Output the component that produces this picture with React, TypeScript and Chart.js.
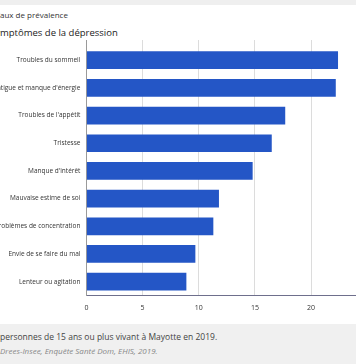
import React, { useEffect, useRef } from "react";
import { Chart, registerables } from "chart.js";

Chart.register(...registerables);

const categories = [
  "Troubles du sommeil",
  "Fatigue et manque d'énergie",
  "Troubles de l'appétit",
  "Tristesse",
  "Manque d'intérêt",
  "Mauvaise estime de soi",
  "Problèmes de concentration",
  "Envie de se faire du mal",
  "Lenteur ou agitation",
];
const prevalence = [22.4, 22.2, 17.7, 16.5, 14.8, 11.8, 11.3, 9.7, 8.9];
const xTicks = [0, 5, 10, 15, 20];

const FONT = "'Open Sans', 'Noto Sans', sans-serif";

export default function App() {
  const ref = useRef<HTMLCanvasElement | null>(null);

  useEffect(() => {
    if (!ref.current) return;
    const chart = new Chart(ref.current, {
      type: "bar",
      data: {
        datasets: [
          {
            data: prevalence.map((v, i) => ({ x: v, y: i })),
            backgroundColor: "#2456c6",
            borderWidth: 0,
            barPercentage: 0.64,
            categoryPercentage: 1,
          },
        ],
      },
      options: {
        indexAxis: "y",
        responsive: false,
        animation: false,
        maintainAspectRatio: false,
        layout: { padding: 0 },
        plugins: {
          legend: { display: false },
          tooltip: { enabled: false },
          title: { display: false },
        },
        scales: {
          x: {
            type: "linear",
            min: 0,
            max: 24,
            afterBuildTicks: (scale: any) => {
              scale.ticks = xTicks.map((v) => ({ value: v }));
            },
            afterFit: (scale: any) => {
              scale.height = 18.5;
              scale.paddingLeft = 0;
              scale.paddingRight = 0;
            },
            grid: {
              display: true,
              color: "#dcdcdc",
              lineWidth: 1,
              drawTicks: false,
            },
            border: { display: true, color: "#6e6f8c", width: 1 },
            ticks: {
              padding: 8,
              color: "#333",
              font: { family: FONT, size: 7 },
              maxRotation: 0,
            },
          },
          y: {
            type: "linear",
            reverse: true,
            offset: false,
            min: -0.73,
            max: 8.5,
            afterBuildTicks: (scale: any) => {
              scale.ticks = categories.map((_, i) => ({ value: i }));
            },
            afterFit: (scale: any) => {
              scale.width = 86.4;
              scale.paddingTop = 0;
              scale.paddingBottom = 0;
            },
            grid: { display: false, drawTicks: false, offset: false },
            border: { display: true, color: "#9a9a9a", width: 1 },
            ticks: {
              padding: 6,
              color: "#333",
              autoSkip: false,
              font: { family: FONT, size: 6.5 },
              callback: (v: any) => categories[v as number] ?? "",
            },
          },
        },
      },
    });
    return () => chart.destroy();
  }, []);

  return (
    <div
      style={{
        position: "fixed",
        left: 0,
        top: 0,
        width: 356,
        height: 364,
        overflow: "hidden",
        background: "#fff",
        fontFamily: FONT,
      }}
    >
      <div
        style={{
          position: "absolute",
          left: 0,
          top: 0,
          width: 356,
          height: 5,
          background: "#efefef",
        }}
      />
      <div
        style={{
          position: "absolute",
          left: 0,
          top: 9,
          fontSize: 8,
          lineHeight: "12px",
          color: "#333",
          whiteSpace: "nowrap",
        }}
      >
        <span style={{ position: "absolute", right: "100%" }}>T</span>aux de prévalence
      </div>
      <div
        style={{
          position: "absolute",
          left: 0,
          top: 26,
          fontSize: 9.5,
          lineHeight: "14px",
          color: "#222",
          whiteSpace: "nowrap",
        }}
      >
        <span style={{ position: "absolute", right: "100%" }}>Sy</span>mptômes de la dépression
      </div>
      <canvas
        ref={ref}
        width={356}
        height={274}
        style={{ position: "absolute", left: 0, top: 40, width: 356, height: 274 }}
      />
      <div
        style={{
          position: "absolute",
          left: 0,
          top: 324,
          width: 356,
          height: 40,
          background: "#f0f0f0",
        }}
      >
        <div
          style={{
            position: "absolute",
            left: 0,
            top: 7,
            fontSize: 8.5,
            lineHeight: "12px",
            color: "#444",
            whiteSpace: "nowrap",
          }}
        >
          <span style={{ position: "absolute", right: "100%" }}>Champ : </span>
          personnes de 15 ans ou plus vivant à Mayotte en 2019.
        </div>
        <div
          style={{
            position: "absolute",
            left: 0,
            top: 21,
            fontSize: 8,
            lineHeight: "12px",
            color: "#888",
            fontStyle: "italic",
            whiteSpace: "nowrap",
          }}
        >
          <span style={{ position: "absolute", right: "100%" }}>Source : </span>
          Drees-Insee, Enquête Santé Dom, EHIS, 2019.
        </div>
      </div>
    </div>
  );
}
